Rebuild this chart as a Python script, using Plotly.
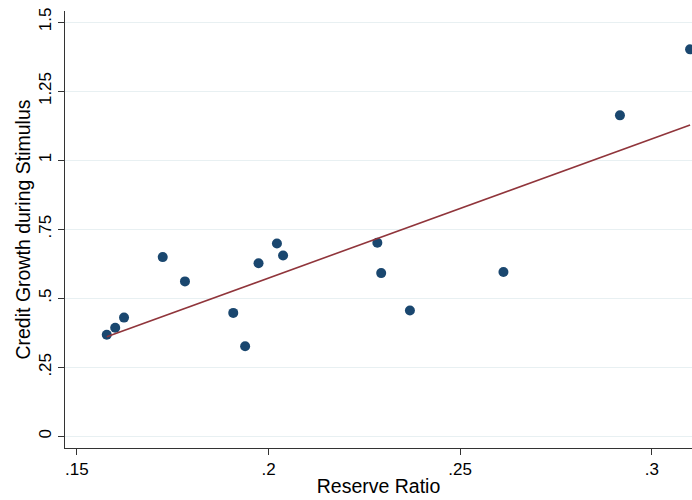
import numpy as np
import plotly.graph_objects as go

reserve_ratio = [0.1578, 0.1600, 0.1623, 0.1724, 0.1782, 0.1908, 0.1939, 0.1974,
                 0.2022, 0.2038, 0.2284, 0.2294, 0.2369, 0.2613, 0.2917, 0.3100]
credit_growth = [0.368, 0.393, 0.430, 0.649, 0.561, 0.447, 0.326, 0.627,
                 0.698, 0.655, 0.701, 0.591, 0.456, 0.595, 1.162, 1.401]

x_tickvals = [0.15, 0.2, 0.25, 0.3]
x_ticktext = [".15", ".2", ".25", ".3"]
y_tickvals = [0, 0.25, 0.5, 0.75, 1, 1.25, 1.5]
y_ticktext = ["0", ".25", ".5", ".75", "1", "1.25", "1.5"]

slope, intercept = np.polyfit(reserve_ratio, credit_growth, 1)
fit_x = [min(reserve_ratio), max(reserve_ratio)]
fit_y = [intercept + slope * v for v in fit_x]

fig = go.Figure()
fig.add_trace(go.Scatter(x=reserve_ratio, y=credit_growth, mode="markers",
                         marker=dict(color="#1a476f", size=10, line=dict(width=0)),
                         showlegend=False))
fig.add_trace(go.Scatter(x=fit_x, y=fit_y, mode="lines",
                         line=dict(color="#90353b", width=1.6),
                         showlegend=False))

font = dict(family="Liberation Sans, Arial, sans-serif", color="#000000", size=17)
fig.update_layout(
    width=692, height=500,
    margin=dict(l=65, r=0, t=11, b=52, pad=0),
    paper_bgcolor="white", plot_bgcolor="white",
    font=font,
    hovermode=False,
    xaxis=dict(range=[0.1469, 0.3105], tickvals=x_tickvals, ticktext=x_ticktext,
               automargin=False,
               showgrid=False, zeroline=False, showline=True, linecolor="#333333",
               linewidth=1, ticks="outside", ticklen=6, tickcolor="#333333",
               title=dict(text="Reserve Ratio", font=dict(size=19.5), standoff=0),
               tickfont=dict(size=17)),
    yaxis=dict(range=[-0.042, 1.5398], tickvals=y_tickvals, ticktext=y_ticktext,
               automargin=False,
               showgrid=True, gridcolor="#e8f0f2", gridwidth=1, zeroline=False,
               showline=True, linecolor="#333333", linewidth=1,
               ticks="outside", ticklen=6, tickcolor="#333333", tickangle=-90,
               title=dict(text="Credit Growth during Stimulus", font=dict(size=19.5), standoff=0),
               tickfont=dict(size=17)),
)
fig.write_html(
    "out.html",
    config={"displayModeBar": False},
    post_script="document.body.style.margin='0';document.body.style.overflow='hidden';"
                "document.documentElement.style.overflow='hidden';",
)
